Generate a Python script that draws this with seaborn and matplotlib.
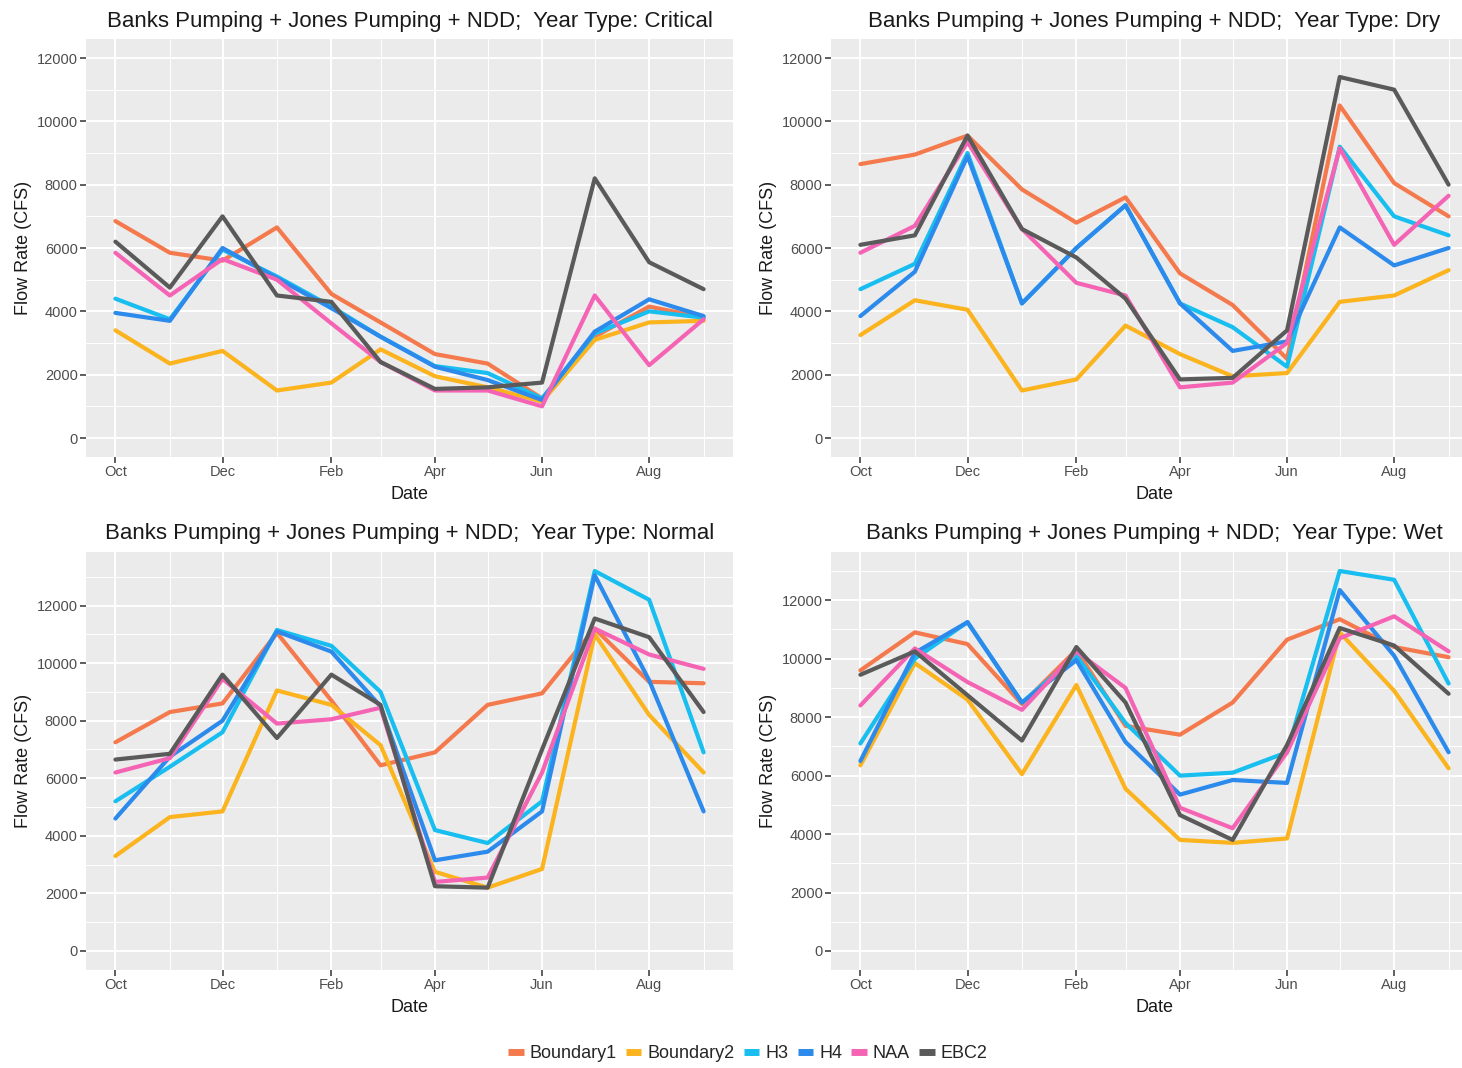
import matplotlib
matplotlib.use("Agg")
import matplotlib.pyplot as plt
import matplotlib.dates as mdates
from matplotlib.ticker import MultipleLocator, FuncFormatter
import numpy as np
import pandas as pd
import seaborn as sns

# Monthly flow (CFS) for each scenario, October through September
months = pd.date_range("2001-10-01", periods=12, freq="MS")
scenarios = ["Boundary1", "Boundary2", "H3", "H4", "NAA", "EBC2"]
year_types = ["Critical", "Dry", "Normal", "Wet"]

critical_boundary1 = [6850, 5850, 5600, 6650, 4550, 3650, 2650, 2350, 1250, 3200, 4150, 3800]
critical_boundary2 = [3400, 2350, 2750, 1500, 1750, 2800, 1950, 1600, 1150, 3100, 3650, 3700]
critical_h3 = [4400, 3750, 5950, 5100, 4150, 3200, 2270, 2050, 1250, 3300, 4000, 3800]
critical_h4 = [3950, 3700, 6000, 5050, 4100, 3200, 2250, 1830, 1200, 3360, 4380, 3850]
critical_naa = [5850, 4500, 5650, 5000, 3620, 2400, 1500, 1500, 1000, 4500, 2300, 3750]
critical_ebc2 = [6200, 4750, 7000, 4500, 4300, 2400, 1550, 1600, 1750, 8200, 5550, 4700]

dry_boundary1 = [8650, 8950, 9550, 7850, 6800, 7600, 5200, 4200, 2500, 10500, 8050, 7000]
dry_boundary2 = [3250, 4350, 4050, 1500, 1850, 3550, 2650, 1950, 2050, 4300, 4500, 5300]
dry_h3 = [4700, 5500, 9000, 4250, 6000, 7350, 4250, 3500, 2250, 9200, 7000, 6400]
dry_h4 = [3850, 5250, 8900, 4250, 6000, 7350, 4250, 2750, 3050, 6650, 5450, 6000]
dry_naa = [5850, 6700, 9350, 6600, 4900, 4500, 1600, 1750, 3000, 9150, 6100, 7650]
dry_ebc2 = [6100, 6400, 9550, 6600, 5700, 4400, 1850, 1900, 3400, 11400, 11000, 8000]

normal_boundary1 = [7250, 8300, 8600, 11050, 8700, 6450, 6900, 8550, 8950, 11200, 9350, 9300]
normal_boundary2 = [3300, 4650, 4850, 9050, 8550, 7150, 2750, 2200, 2850, 11000, 8200, 6200]
normal_h3 = [5200, 6400, 7600, 11150, 10600, 9000, 4200, 3750, 5200, 13200, 12200, 6900]
normal_h4 = [4600, 6750, 8000, 11100, 10400, 8500, 3150, 3450, 4850, 13050, 9400, 4850]
normal_naa = [6200, 6700, 9450, 7900, 8050, 8450, 2400, 2550, 6200, 11200, 10300, 9800]
normal_ebc2 = [6650, 6850, 9600, 7400, 9600, 8550, 2250, 2200, 7000, 11550, 10900, 8300]

wet_boundary1 = [9600, 10900, 10500, 8450, 10300, 7700, 7400, 8500, 10650, 11350, 10400, 10050]
wet_boundary2 = [6350, 9850, 8600, 6050, 9100, 5550, 3800, 3700, 3850, 10900, 8900, 6250]
wet_h3 = [7100, 10000, 11250, 8500, 10100, 7800, 6000, 6100, 6800, 13000, 12700, 9150]
wet_h4 = [6500, 10200, 11250, 8500, 9950, 7150, 5350, 5850, 5750, 12350, 10100, 6800]
wet_naa = [8400, 10350, 9200, 8250, 10250, 9000, 4900, 4200, 6800, 10700, 11450, 10250]
wet_ebc2 = [9450, 10250, 8750, 7200, 10400, 8500, 4650, 3800, 7050, 11050, 10450, 8800]

series = {
    "Critical": [critical_boundary1, critical_boundary2, critical_h3, critical_h4, critical_naa, critical_ebc2],
    "Dry": [dry_boundary1, dry_boundary2, dry_h3, dry_h4, dry_naa, dry_ebc2],
    "Normal": [normal_boundary1, normal_boundary2, normal_h3, normal_h4, normal_naa, normal_ebc2],
    "Wet": [wet_boundary1, wet_boundary2, wet_h3, wet_h4, wet_naa, wet_ebc2],
}

palette = {
    "Boundary1": "#F47A4E",
    "Boundary2": "#FBB31E",
    "H3": "#17BEEF",
    "H4": "#2B8AEC",
    "NAA": "#F564B4",
    "EBC2": "#5A5A5A",
}

rows = []
for yt in year_types:
    for name, vals in zip(scenarios, series[yt]):
        for d, v in zip(months, vals):
            rows.append({"YearType": yt, "Scenario": name, "Date": d, "Flow": v})
df = pd.DataFrame(rows)

sns.set_theme(style="darkgrid")
plt.rcParams["font.family"] = ["Liberation Sans", "DejaVu Sans"]
plt.rcParams["axes.facecolor"] = "#EBEBEB"

fig = plt.figure(figsize=(14.62, 10.68), dpi=100)
W, H = 1462, 1068
# panel boxes in pixels: left, top, right, bottom (right column runs past the canvas edge)
boxes = {
    "Critical": (86, 39, 733, 457),
    "Dry": (831, 39, 1478, 457),
    "Normal": (86, 552, 733, 970),
    "Wet": (831, 552, 1478, 970),
}

span = (months[-1] - months[0])
pad = span * 0.05

for yt in year_types:
    l, t, r, b = boxes[yt]
    ax = fig.add_axes([l / W, 1 - b / H, (r - l) / W, (b - t) / H])
    sub = df[df["YearType"] == yt]
    sns.lineplot(data=sub, x="Date", y="Flow", hue="Scenario", hue_order=scenarios,
                 palette=palette, linewidth=3.0, ax=ax, legend=(yt == "Critical"))
    top = max(12000, sub["Flow"].max())
    ax.set_ylim(-0.05 * top, top * 1.05)
    ax.set_xlim(months[0] - pad, months[-1] + pad)

    ax.yaxis.set_major_locator(MultipleLocator(2000))
    ax.yaxis.set_minor_locator(MultipleLocator(1000))
    ax.yaxis.set_major_formatter(FuncFormatter(lambda v, p: f"{int(v)}"))
    ax.xaxis.set_major_locator(mdates.MonthLocator(bymonth=[10, 12, 2, 4, 6, 8]))
    ax.xaxis.set_minor_locator(mdates.MonthLocator(bymonth=[11, 1, 3, 5, 7, 9]))
    ax.xaxis.set_major_formatter(mdates.DateFormatter("%b"))

    ax.grid(which="major", color="white", linewidth=1.4)
    ax.grid(which="minor", color="white", linewidth=0.7)
    for s in ax.spines.values():
        s.set_visible(False)
    ax.tick_params(which="major", length=4, width=1.1, color="#333333",
                   labelsize=10.5, labelcolor="#4D4D4D", pad=2)
    ax.tick_params(which="minor", length=0)
    ax.tick_params(axis="x", bottom=True)
    ax.tick_params(axis="y", left=True)

    ax.set_title(f"Banks Pumping + Jones Pumping + NDD;  Year Type: {yt}",
                 fontsize=16, color="#1A1A1A", pad=9)
    ax.set_xlabel("Date", fontsize=13, color="#1A1A1A", labelpad=5)
    ax.set_ylabel("Flow Rate (CFS)", fontsize=13, color="#1A1A1A", labelpad=3)

    if yt == "Critical":
        handles, labels = ax.get_legend_handles_labels()
        ax.get_legend().remove()

leg = fig.legend(handles, labels, loc="center", bbox_to_anchor=(748 / W, 1 - 1054 / H),
                 ncol=6, frameon=False, fontsize=13, handlelength=0.85,
                 handletextpad=0.35, columnspacing=0.5)
for line in leg.get_lines():
    line.set_linewidth(5)
    line.set_solid_capstyle("butt")

fig.savefig("out.png", dpi=100, facecolor="white")
